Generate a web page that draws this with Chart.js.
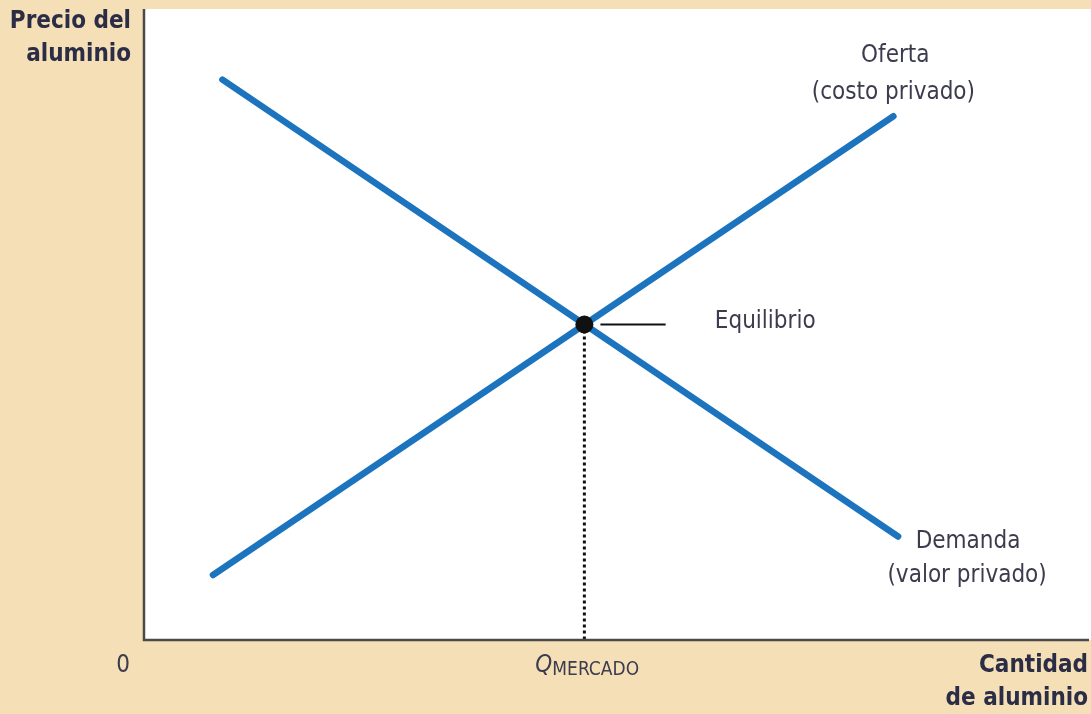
<!DOCTYPE html>
<html><head><meta charset="utf-8">
<script src="https://cdn.jsdelivr.net/npm/chart.js@4.4.1/dist/chart.umd.min.js"></script>
<style>html,body{margin:0;padding:0;background:#F5DFB6;}#wrap{width:1091px;height:714px;}</style>
</head><body><div id="wrap"><canvas id="c" width="1091" height="714"></canvas></div>
<script>
// Data (arbitrary units, 0-100 on both axes)
const demandX = [8.3, 79.8];
const demandY = [88.8, 16.4];
const supplyX = [7.3, 79.3];
const supplyY = [10.3, 83.0];
const equilibriumX = [46.6];
const equilibriumY = [50.0];
const xTickLabels = ['0', 'Q'];

const FONT = "'Liberation Sans Narrow', 'DejaVu Sans Condensed', 'Noto Sans', sans-serif";
const txtColor = '#3c3c4e';
const titleColor = '#2a2d45';

const pts = (xs, ys) => xs.map((x, i) => ({x, y: ys[i]}));

const bgPlugin = {
  id: 'bg',
  beforeDraw(chart) {
    const {ctx, chartArea: a} = chart;
    ctx.save();
    ctx.fillStyle = '#F5DFB6';
    ctx.fillRect(0, 0, chart.width, chart.height);
    ctx.fillStyle = '#ffffff';
    ctx.fillRect(a.left, a.top, chart.width - a.left, a.bottom - a.top);
    ctx.restore();
  },
  afterDraw(chart) {
    const {ctx, chartArea: a, scales: {x, y}} = chart;
    ctx.save();
    const x0 = x.getPixelForValue(0);
    // axes
    ctx.strokeStyle = '#4a4a4a';
    ctx.lineWidth = 2.5;
    ctx.beginPath();
    ctx.moveTo(x0, a.top);
    ctx.lineTo(x0, a.bottom);
    ctx.lineTo(chart.width - 2, a.bottom);
    ctx.stroke();

    ctx.fillStyle = txtColor;
    ctx.textBaseline = 'middle';
    ctx.font = '24px ' + FONT;
    // curve labels
    ctx.textAlign = 'center';
    ctx.fillText('Oferta', x.getPixelForValue(79.5), y.getPixelForValue(92.6));
    ctx.fillText('(costo privado)', x.getPixelForValue(79.3), y.getPixelForValue(86.8));
    ctx.fillText('Demanda', x.getPixelForValue(87.2), y.getPixelForValue(15.5));
    ctx.fillText('(valor privado)', x.getPixelForValue(87.1), y.getPixelForValue(10.2));
    ctx.textAlign = 'left';
    ctx.fillText('Equilibrio', x.getPixelForValue(60.4), y.getPixelForValue(50.4));

    // x tick labels
    const ty = a.bottom + 26;
    ctx.textAlign = 'right';
    ctx.fillText(xTickLabels[0], x0 - 14, ty);
    ctx.font = 'italic 24px ' + FONT;
    ctx.textAlign = 'left';
    const qx = x.getPixelForValue(equilibriumX[0]) - 49;
    ctx.fillText(xTickLabels[1], qx, ty);
    ctx.font = '19px ' + FONT;
    ctx.fillText('MERCADO', qx + 17, ty + 4);

    // axis titles
    ctx.fillStyle = titleColor;
    ctx.font = 'bold 24px ' + FONT;
    ctx.textAlign = 'right';
    ctx.fillText('Precio del', 131, 22);
    ctx.fillText('aluminio', 131, 55);
    ctx.fillText('Cantidad', chart.width - 3, a.bottom + 26);
    ctx.fillText('de aluminio', chart.width - 3, a.bottom + 59);
    ctx.restore();
  }
};

new Chart(document.getElementById('c'), {
  type: 'scatter',
  data: {
    datasets: [
      {label: 'Demanda', order: 2, data: pts(demandX, demandY), showLine: true, borderColor: '#1b74bd', borderWidth: 6.5, pointRadius: 0, borderCapStyle: 'round'},
      {label: 'Oferta', order: 2, data: pts(supplyX, supplyY), showLine: true, borderColor: '#1b74bd', borderWidth: 6.5, pointRadius: 0, borderCapStyle: 'round'},
      {label: 'dotted', order: 1, data: [{x: equilibriumX[0], y: equilibriumY[0]}, {x: equilibriumX[0], y: 0}], showLine: true, borderColor: '#111', borderWidth: 3, borderDash: [3, 3], pointRadius: 0},
      {label: 'pointer', order: 1, data: [{x: equilibriumX[0] + 1.7, y: equilibriumY[0]}, {x: equilibriumX[0] + 8.6, y: equilibriumY[0]}], showLine: true, borderColor: '#111', borderWidth: 2, pointRadius: 0},
      {label: 'Equilibrio', order: 0, data: pts(equilibriumX, equilibriumY), pointRadius: 9, pointBackgroundColor: '#111', pointBorderColor: '#111', pointBorderWidth: 0}
    ]
  },
  options: {
    responsive: false,
    animation: false,
    devicePixelRatio: 1,
    layout: {autoPadding: false, padding: {left: 144, right: 2, top: 9, bottom: 74}},
    plugins: {legend: {display: false}, tooltip: {enabled: false}},
    scales: {
      x: {type: 'linear', min: 0, max: 100, display: false},
      y: {type: 'linear', min: 0, max: 100, display: false}
    }
  },
  plugins: [bgPlugin]
});
</script></body></html>
